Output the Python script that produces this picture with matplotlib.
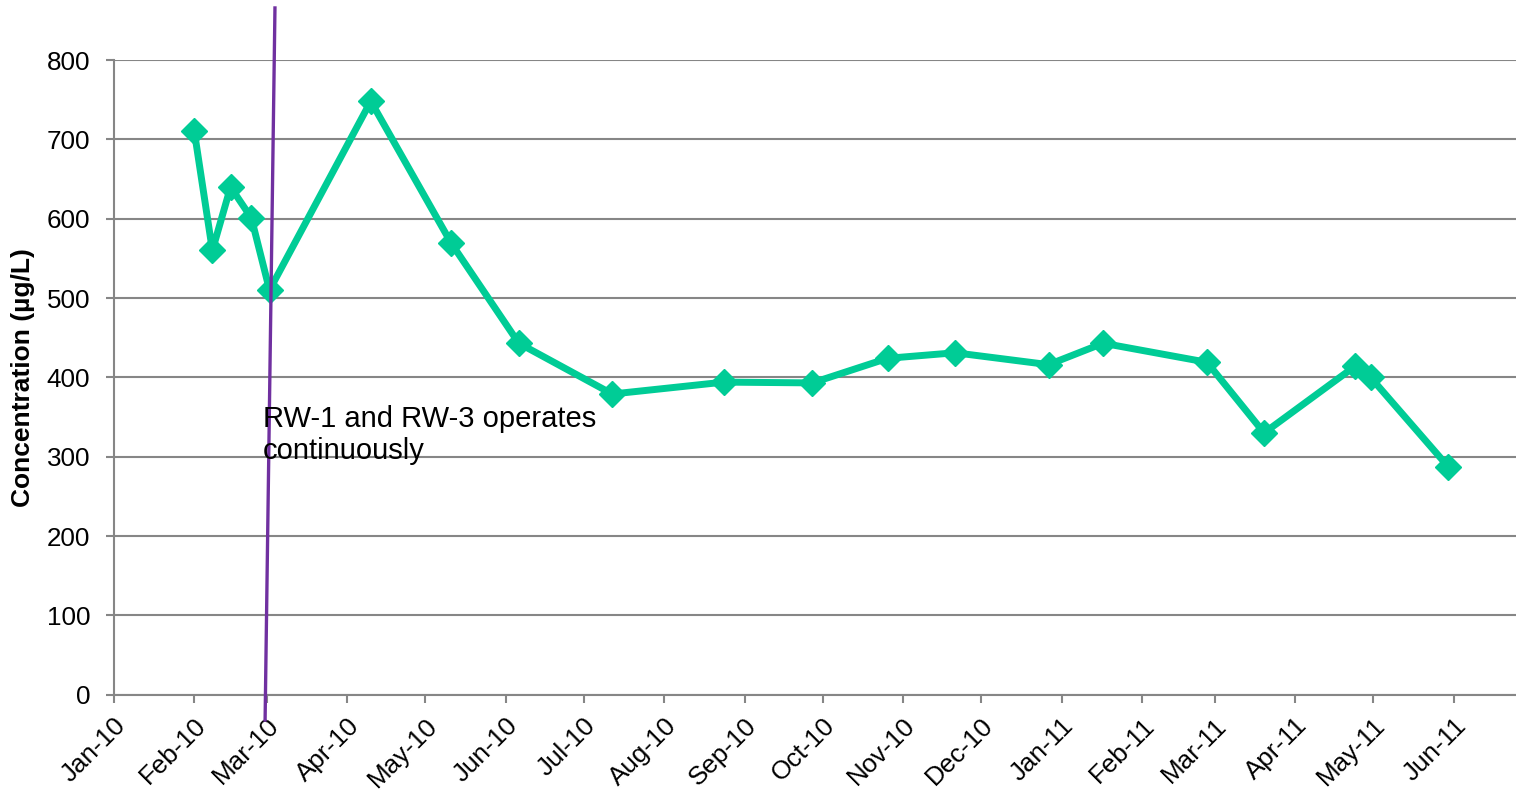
import matplotlib
matplotlib.use("Agg")
import matplotlib.pyplot as plt
import matplotlib.dates as mdates
import datetime as dt

plt.rcParams['font.family'] = ['Liberation Sans', 'DejaVu Sans']

dates = ["2010-02-01", "2010-02-08", "2010-02-15", "2010-02-23", "2010-03-02",
         "2010-04-10", "2010-05-11", "2010-06-06", "2010-07-12", "2010-08-24",
         "2010-09-27", "2010-10-26", "2010-11-21", "2010-12-27", "2011-01-17",
         "2011-02-26", "2011-03-20", "2011-04-24", "2011-04-30", "2011-05-30"]
conc = [711, 560, 640, 601, 510, 748, 569, 443, 379, 394,
        393, 424, 431, 416, 443, 419, 330, 414, 400, 287]

annotation = "RW-1 and RW-3 operates\ncontinuously"
ylabel = "Concentration (µg/L)"
yticks = [0, 100, 200, 300, 400, 500, 600, 700, 800]

x = [dt.datetime.strptime(d, "%Y-%m-%d") for d in dates]

W, H = 1516, 791
fig = plt.figure(figsize=(W/100, H/100), dpi=100)
ax = fig.add_axes([113.7/W, (H-694.7)/H, (W-113.7)/W, (694.7-60)/H])

green = "#00CC96"
gray = "#868686"

ax.set_ylim(0, 800)
ax.set_xlim(dt.datetime(2010, 1, 1), dt.datetime(2011, 6, 25))
ax.set_yticks(yticks)
ax.yaxis.grid(True, color=gray, linewidth=1.5)
ax.set_axisbelow(True)

ax.plot(x, conc, color=green, linewidth=5, marker="D", markersize=13,
        markerfacecolor=green, markeredgecolor=green, zorder=3)

# vertical event line (slightly slanted, extends beyond plot)
x0 = mdates.date2num(dt.datetime(2010, 1, 1))
ax.plot([x0 + 62.1, x0 + 58.3], [865.6, -31.9], color="#7030A0", linewidth=2.4,
        clip_on=False, zorder=4)

ax.text(x0 + 57.4, 365, annotation,
        fontsize=21, va="top", ha="left", color="#000000", linespacing=1.18, zorder=5)

ax.xaxis.set_major_locator(mdates.MonthLocator())
ax.xaxis.set_major_formatter(mdates.DateFormatter("%b-%y"))
for lbl in ax.get_xticklabels():
    lbl.set_rotation(45)
    lbl.set_ha("right")
    lbl.set_rotation_mode("anchor")

ax.tick_params(axis="both", labelsize=18.7, colors="#000000", direction="out")
ax.tick_params(axis="y", length=5.8, width=1.5, color=gray, pad=11)
ax.tick_params(axis="x", length=5.5, width=1.5, color=gray, pad=8)

for s in ["top", "right"]:
    ax.spines[s].set_visible(False)
for s in ["left", "bottom"]:
    ax.spines[s].set_color(gray)
    ax.spines[s].set_linewidth(1.5)

ax.set_ylabel(ylabel, fontsize=19, fontweight="bold")
ax.yaxis.set_label_coords(-0.0561, 0.5)

fig.savefig("out.png", dpi=100, facecolor="white")
